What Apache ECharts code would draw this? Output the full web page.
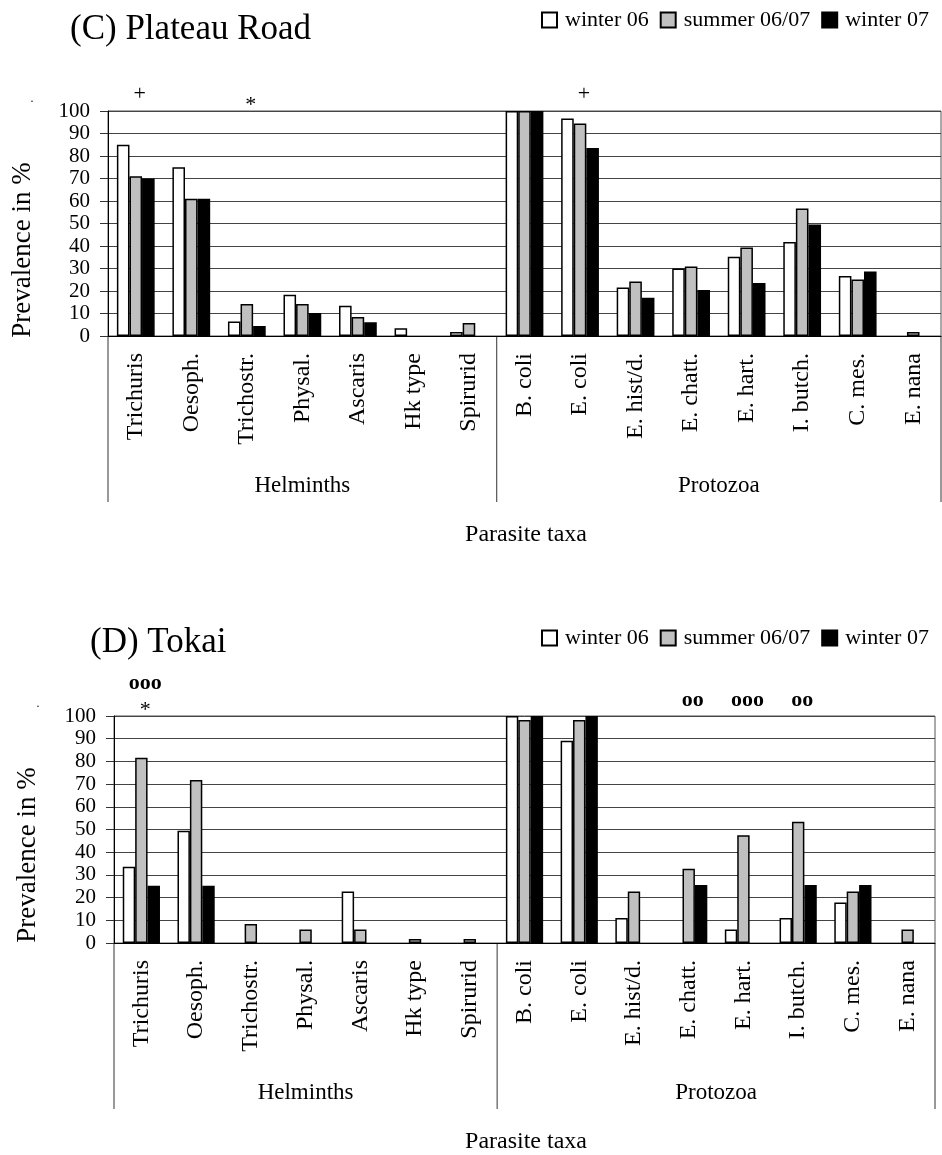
<!DOCTYPE html>
<html>
<head>
<meta charset="utf-8">
<script src="https://cdn.jsdelivr.net/npm/echarts@6/dist/echarts.min.js"></script>
<style>
  body { margin: 0; background: #fff; }
  #chart { width: 942px; height: 1155px; }
</style>
</head>
<body>
<div id="chart"></div>
<script>
// categories and groups
var categories = ["Trichuris", "Oesoph.", "Trichostr.", "Physal.", "Ascaris", "Hk type", "Spirurid",
  "B. coli", "E. coli", "E. hist/d.", "E. chatt.", "E. hart.", "I. butch.", "C. mes.", "E. nana"];
var groupNames = ["Helminths", "Protozoa"];
var groupSizes = [7, 8];
var seriesNames = ["winter 06", "summer 06/07", "winter 07"];
var panelTitles = ["(C) Plateau Road", "(D) Tokai"];

// (C) Plateau Road, prevalence in %
var plateauWinter06 = [85, 75, 6.5, 18.3, 13.4, 3.5, 1.8, 100, 96.7, 21.6, 30, 35.2, 41.8, 26.7, null];
var plateauSummer = [71, 61, 14.2, 14.2, 8.4, null, 5.8, 100, 94.4, 24.2, 30.9, 39.3, 56.7, 25.1, 1.8];
var plateauWinter07 = [70, 61, 4.4, 10.2, 6.1, null, null, 100, 83.6, 17, 20.4, 23.6, 49.6, 28.7, null];

// (D) Tokai, prevalence in %
var tokaiWinter06 = [33.6, 49.4, null, null, 22.7, null, null, 100, 89.1, 11, null, 5.9, 11, 17.8, null];
var tokaiSummer = [81.6, 71.8, 8.4, 5.9, 5.9, 1.8, 1.8, 98.2, 98.2, 22.7, 32.7, 47.5, 53.4, 22.7, 5.9];
var tokaiWinter07 = [25.2, 25.2, null, null, null, null, null, 100, 100, null, 25.5, null, 25.5, 25.5, null];

// significance marks above the bars (lines from bottom to top)
var plateauNotes = [["Trichuris", ["+"]], ["Trichostr.", ["*"]], ["E. coli", ["+"]]];
var tokaiNotes = [["Trichuris", ["*", "ooo"]], ["E. chatt.", ["oo"]], ["E. hart.", ["ooo"]], ["I. butch.", ["oo"]]];

var yMin = 0, yMax = 100, yStep = 10;

var FONT = "'Liberation Serif', 'Times New Roman', serif";
var fills = ["#ffffff", "#c0c0c0", "#000000"];

var panels = [
  { data: [plateauWinter06, plateauSummer, plateauWinter07], notes: plateauNotes,
    grid: { left: 108, right: 1, top: 111, height: 225 }, titleX: 70, titleY: 32, legendTop: 9 },
  { data: [tokaiWinter06, tokaiSummer, tokaiWinter07], notes: tokaiNotes,
    grid: { left: 114, right: 7, top: 716, height: 227 }, titleX: 90, titleY: 645, legendTop: 627 }
];

var chart = echarts.init(document.getElementById("chart"));

var option = {
  animation: false,
  backgroundColor: "#fff",
  title: [],
  legend: [],
  grid: [],
  xAxis: [],
  yAxis: [],
  series: []
};

panels.forEach(function (p, i) {
  option.title.push({
    text: panelTitles[i],
    left: p.titleX,
    top: p.titleY - 20,
    padding: 0,
    textStyle: { fontFamily: FONT, fontSize: 35, fontWeight: "normal", color: "#000" }
  });
  option.legend.push({
    data: seriesNames,
    left: 541,
    top: p.legendTop,
    padding: 0,
    itemWidth: 15,
    itemHeight: 15,
    itemGap: 11,
    icon: "rect",
    textStyle: { fontFamily: FONT, fontSize: 22, color: "#000", padding: [0, 0, 0, 3] }
  });
  option.grid.push({
    left: p.grid.left, right: p.grid.right, top: p.grid.top, height: p.grid.height,
    show: true, borderColor: "#555", borderWidth: 1
  });
  option.xAxis.push({
    type: "category",
    gridIndex: i,
    data: categories,
    axisLine: { lineStyle: { color: "#000", width: 1 } },
    axisTick: { show: false },
    axisLabel: { interval: 0, rotate: 90, margin: 17, fontFamily: FONT, fontSize: 24, color: "#000" }
  });
  option.yAxis.push({
    type: "value",
    gridIndex: i,
    min: yMin, max: yMax, interval: yStep,
    axisLine: { show: true, lineStyle: { color: "#000", width: 1 } },
    axisTick: { show: true, inside: false, length: 8, lineStyle: { color: "#333" } },
    axisLabel: { margin: 18, fontFamily: FONT, fontSize: 21, color: "#000" },
    splitLine: { lineStyle: { color: "#444", width: 1 } }
  });
  p.data.forEach(function (values, s) {
    option.series.push({
      name: seriesNames[s],
      type: "bar",
      xAxisIndex: i,
      yAxisIndex: i,
      data: values,
      barGap: "0%",
      barCategoryGap: "32%",
      itemStyle: { color: fills[s], borderColor: "#000", borderWidth: 1.5 }
    });
  });
});

chart.setOption(option);

// group dividers, group labels, axis names and marks, placed from the axes
var graphics = [];
panels.forEach(function (p, i) {
  var g = p.grid;
  var axisY = g.top + g.height;
  var leftX = g.left, rightX = 942 - g.right;
  var bounds = [leftX];
  var start = 0;
  groupSizes.forEach(function (n, k) {
    var last = start + n - 1;
    var bx = k === groupSizes.length - 1 ? rightX
      : (chart.convertToPixel({ xAxisIndex: i }, categories[last]) +
         chart.convertToPixel({ xAxisIndex: i }, categories[last + 1])) / 2;
    bounds.push(bx);
    start += n;
  });
  bounds.forEach(function (bx) {
    graphics.push({ type: "line", shape: { x1: bx, y1: axisY, x2: bx, y2: axisY + 166 },
      style: { stroke: "#333", lineWidth: 1 } });
  });
  groupNames.forEach(function (name, k) {
    graphics.push({ type: "text", x: (bounds[k] + bounds[k + 1]) / 2, y: axisY + 150,
      style: { text: name, font: "23px " + FONT, fill: "#000", align: "center", verticalAlign: "middle" } });
  });
  graphics.push({ type: "text", x: 526, y: axisY + 199,
    style: { text: "Parasite taxa", font: "24px " + FONT, fill: "#000", align: "center", verticalAlign: "middle" } });
  graphics.push({ type: "text", x: i === 0 ? 23 : 28, y: g.top + 139, rotation: Math.PI / 2,
    style: { text: "Prevalence in %", font: "27px " + FONT, fill: "#000", align: "center", verticalAlign: "middle" } });
  graphics.push({ type: "text", x: i === 0 ? 32 : 38, y: g.top - 12,
    style: { text: ".", font: "12px " + FONT, fill: "#000", align: "center", verticalAlign: "middle" } });

  p.notes.forEach(function (note) {
    var nx = chart.convertToPixel({ xAxisIndex: i }, note[0]);
    note[1].forEach(function (txt, row) {
      var off = txt === "+" ? 17 : txt === "*" ? 6 : 16;
      if (row > 0) off = 33;
      var bold = txt.charAt(0) === "o";
      graphics.push({ type: "text", x: nx + 4, y: g.top - off,
        style: { text: txt, font: (bold ? "bold 22px " : "22px ") + FONT, fill: "#000",
          align: "center", verticalAlign: "middle" } });
    });
  });
});
chart.setOption({ graphic: graphics });
</script>
</body>
</html>
